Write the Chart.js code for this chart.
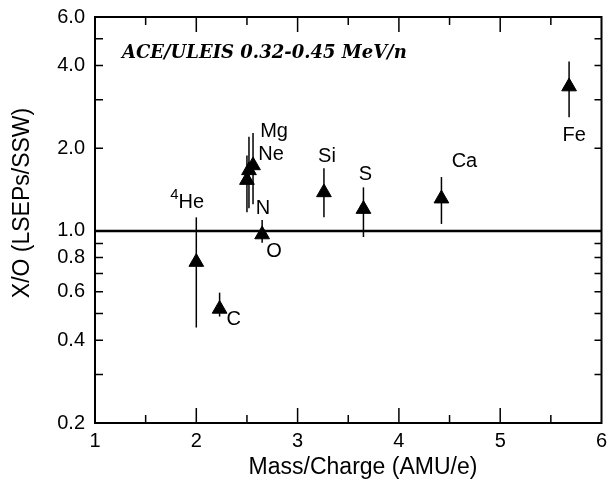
<!DOCTYPE html>
<html>
<head>
<meta charset="utf-8">
<script src="https://cdn.jsdelivr.net/npm/chart.js@4.4.1/dist/chart.umd.min.js"></script>
<style>
  html, body { margin: 0; padding: 0; background: #fff; }
  #wrap { width: 611px; height: 485px; }
</style>
</head>
<body>
<div id="wrap"><canvas id="grafico"></canvas></div>
<script>
// Dados
const elementos  = ['4He', 'C', 'N', 'O', 'Ne', 'Mg', 'Si', 'S', 'Ca', 'Fe'];
const massaCarga = [2.00, 2.23, 2.50, 2.65, 2.52, 2.56, 3.26, 3.65, 4.42, 5.68];
const razao      = [0.77, 0.52, 1.53, 0.97, 1.66, 1.73, 1.38, 1.20, 1.31, 3.35];
const erroMin    = [0.445, 0.488, 1.17, 0.905, 1.21, 1.25, 1.12, 0.95, 1.06, 2.59];
const erroMax    = [1.12, 0.596, 1.88, 1.096, 2.20, 2.27, 1.69, 1.44, 1.57, 4.13];
const linhaRef   = 1.0;

// Ticks
const yRotulos   = [0.2, 0.4, 0.6, 0.8, 1.0, 2.0, 4.0, 6.0];
const yMarcas    = [0.2, 0.3, 0.4, 0.5, 0.6, 0.7, 0.8, 0.9, 1, 2, 3, 4, 5, 6];
const xRotulos   = [1, 2, 3, 4, 5, 6];
const xMaiores   = [2, 3, 4, 5];
const xMenores   = [1.5, 2.5, 3.5, 4.5, 5.5];

// deslocamento dos rótulos (px) em relação ao ponto
const rotuloDesloc = {
  '4He': [-5, -60], C: [14, 11], N: [16, 28], O: [12, 17], Ne: [22, -16],
  Mg: [21, -34], Si: [3, -36], S: [2, -35], Ca: [23, -37], Fe: [5, 49]
};

const FONTE = '"Liberation Sans", Arial, Helvetica, sans-serif';

// Barras de erro, moldura, ticks para dentro e textos
const extras = {
  id: 'extras',
  beforeDatasetsDraw(chart) {
    const { ctx, scales: { x, y } } = chart;
    ctx.save();
    ctx.strokeStyle = '#000';
    ctx.lineWidth = 1.5;
    massaCarga.forEach((m, i) => {
      const px = x.getPixelForValue(m);
      ctx.beginPath();
      ctx.moveTo(px, y.getPixelForValue(erroMin[i]));
      ctx.lineTo(px, y.getPixelForValue(erroMax[i]));
      ctx.stroke();
    });
    ctx.restore();
  },
  afterDatasetsDraw(chart) {
    const { ctx, chartArea: a, scales: { x, y } } = chart;
    ctx.save();
    ctx.strokeStyle = '#000';
    ctx.lineWidth = 2;
    ctx.strokeRect(a.left, a.top, a.right - a.left, a.bottom - a.top);

    ctx.lineWidth = 1.5;
    ctx.beginPath();
    yMarcas.forEach(v => {
      const py = y.getPixelForValue(v);
      ctx.moveTo(a.left, py); ctx.lineTo(a.left + 8, py);
      ctx.moveTo(a.right, py); ctx.lineTo(a.right - 7, py);
    });
    xMaiores.forEach(v => {
      const px = x.getPixelForValue(v);
      ctx.moveTo(px, a.bottom); ctx.lineTo(px, a.bottom - 15);
      ctx.moveTo(px, a.top); ctx.lineTo(px, a.top + 15);
    });
    xMenores.forEach(v => {
      const px = x.getPixelForValue(v);
      ctx.moveTo(px, a.bottom); ctx.lineTo(px, a.bottom - 8);
      ctx.moveTo(px, a.top); ctx.lineTo(px, a.top + 8);
    });
    ctx.stroke();

    // rótulos dos elementos
    ctx.fillStyle = '#000';
    ctx.textAlign = 'center';
    ctx.textBaseline = 'middle';
    ctx.font = '20px ' + FONTE;
    elementos.forEach((el, i) => {
      const px = x.getPixelForValue(massaCarga[i]);
      const py = y.getPixelForValue(razao[i]);
      const [dx, dy] = rotuloDesloc[el];
      if (el === '4He') {
        ctx.fillText('He', px + dx, py + dy);
        ctx.font = '15px ' + FONTE;
        ctx.fillText('4', px + dx - 17, py + dy - 7);
        ctx.font = '20px ' + FONTE;
      } else {
        ctx.fillText(el, px + dx, py + dy);
      }
    });

    // anotação
    ctx.textAlign = 'left';
    ctx.textBaseline = 'alphabetic';
    ctx.font = 'italic bold 18px "DejaVu Serif", serif';
    ctx.fillText('ACE/ULEIS 0.32-0.45 MeV/n', 122, 58);

    // títulos dos eixos
    ctx.font = '23px ' + FONTE;
    ctx.textAlign = 'center';
    ctx.textBaseline = 'middle';
    ctx.fillText('Mass/Charge (AMU/e)', 363, 468);
    ctx.translate(23, 203);
    ctx.rotate(-Math.PI / 2);
    ctx.fillText('X/O (LSEPs/SSW)', 0, 0);
    ctx.restore();
  }
};

new Chart(document.getElementById('grafico'), {
  type: 'scatter',
  data: {
    datasets: [
      {
        type: 'line',
        label: 'ref',
        data: [{ x: 1, y: linhaRef }, { x: 6, y: linhaRef }],
        borderColor: '#000',
        borderWidth: 2.5,
        pointRadius: 0
      },
      {
        label: 'X/O',
        data: massaCarga.map((m, i) => ({ x: m, y: razao[i] })),
        pointStyle: 'triangle',
        pointRadius: 8.5,
        backgroundColor: '#000',
        borderColor: '#000',
        borderWidth: 1
      }
    ]
  },
  options: {
    responsive: true,
    maintainAspectRatio: false,
    animation: false,
    layout: { padding: { top: 17, right: 7, left: 0, bottom: 0 } },
    plugins: { legend: { display: false }, tooltip: { enabled: false } },
    scales: {
      x: {
        type: 'linear', min: 1, max: 6,
        grid: { display: false, drawTicks: false },
        border: { display: false },
        afterBuildTicks: s => { s.ticks = xRotulos.map(v => ({ value: v })); },
        afterFit: s => { s.height = 62; s.paddingLeft = 0; s.paddingRight = 0; },
        ticks: { color: '#000', padding: 6, font: { family: FONTE, size: 20 }, callback: v => String(v) }
      },
      y: {
        type: 'logarithmic', min: 0.2, max: 6,
        grid: { display: false, drawTicks: false },
        border: { display: false },
        afterBuildTicks: s => { s.ticks = yRotulos.map(v => ({ value: v })); },
        afterFit: s => { s.width = 95; s.paddingTop = 0; s.paddingBottom = 0; },
        ticks: { color: '#000', padding: 10, font: { family: FONTE, size: 20 }, callback: v => Number(v).toFixed(1) }
      }
    }
  },
  plugins: [extras]
});
</script>
</body>
</html>
